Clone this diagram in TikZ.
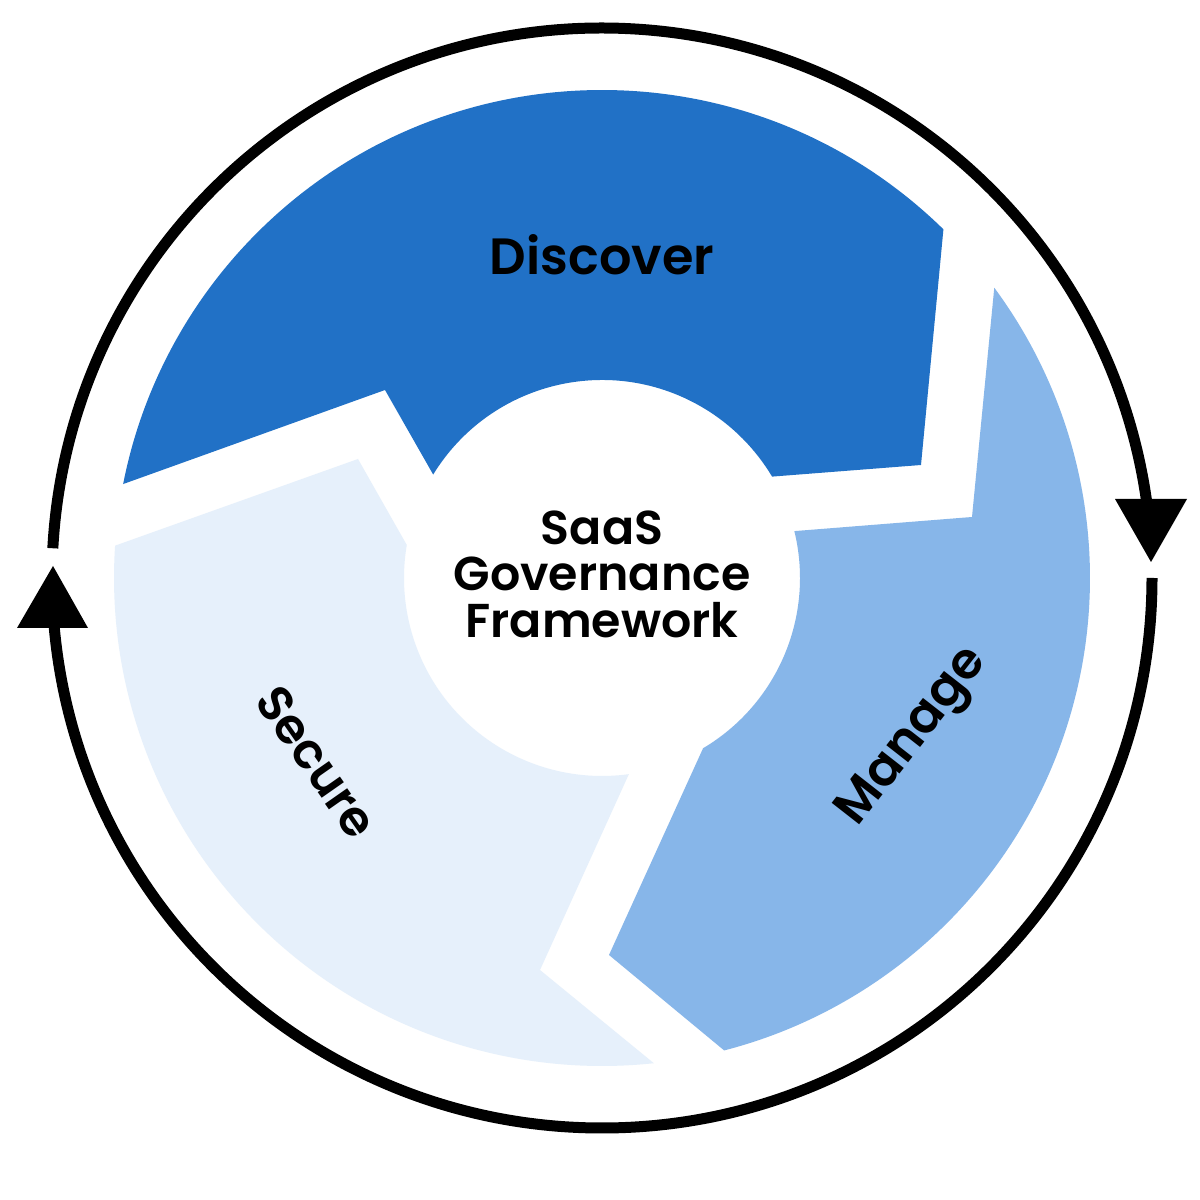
\documentclass[tikz,border=0pt]{standalone}
\usepackage{fontspec}
\setmainfont{Poppins}[UprightFont={* SemiBold},BoldFont={* Bold}]
\definecolor{discoverblue}{HTML}{2171C6}
\definecolor{manageblue}{HTML}{87B6E9}
\definecolor{securblue}{HTML}{E6F0FB}
\tikzset{
  ringline/.style={line width=11pt, black},
  arrowtri/.style={fill=black, draw=none},
  seglabel/.style={text=black, inner sep=0pt},
}
\begin{document}
\begin{tikzpicture}[x=1pt,y=1pt]
\useasboundingbox (0,0) rectangle (1200,1200);
\fill[white] (0,0) rectangle (1200,1200);
\begin{scope}[shift={(602,622)}]
  % Discover
  \fill[discoverblue] (168.9:488) -- (-217,188) -- (148.5:198)
     arc[start angle=148.5, end angle=30.8, radius=198]
     -- (319,113) -- (45.6:488)
     arc[start angle=45.6, end angle=168.9, radius=488] -- cycle;
  % Manage
  \fill[manageblue] (36.5:488) -- (370,61) -- (13.7:198)
     arc[start angle=13.7, end angle=-59.3, radius=198]
     -- (7,-377) -- (-75.5:488)
     arc[start angle=-75.5, end angle=36.5, radius=488] -- cycle;
  % Secure
  \fill[securblue] (176.2:488) -- (-244,119) -- (170.4:198)
     arc[start angle=170.4, end angle=277.8, radius=198]
     -- (-62,-392) -- (276.1:488)
     arc[start angle=276.1, end angle=176.2, radius=488] -- cycle;
  % outer ring
  \draw[ringline] (176.9:550) arc[start angle=176.9, end angle=7.6, radius=550];
  \draw[ringline] (0:550) arc[start angle=0, end angle=-175.6, radius=550];
  \fill[arrowtri] (513,79) -- (585,79) -- (549,16) -- cycle;
  \fill[arrowtri] (-585,-50) -- (-514,-50) -- (-549,12) -- cycle;
  % labels
  \node[seglabel, font=\fontsize{51}{52}\selectfont] (discover) at (0,323) {Discover};
  \node[seglabel, align=center, font=\fontsize{47.5}{46.5}\selectfont] (center) at (0,4) {SaaS\\Governance\\Framework};
  \node[seglabel, rotate=52, font=\fontsize{50}{51}\selectfont] (manage) at (312,-160) {Manage};
  \node[seglabel, rotate=-55, font=\fontsize{49}{50}\selectfont] (secure) at (-285,-184) {Secure};
\end{scope}
\end{tikzpicture}
\end{document}
